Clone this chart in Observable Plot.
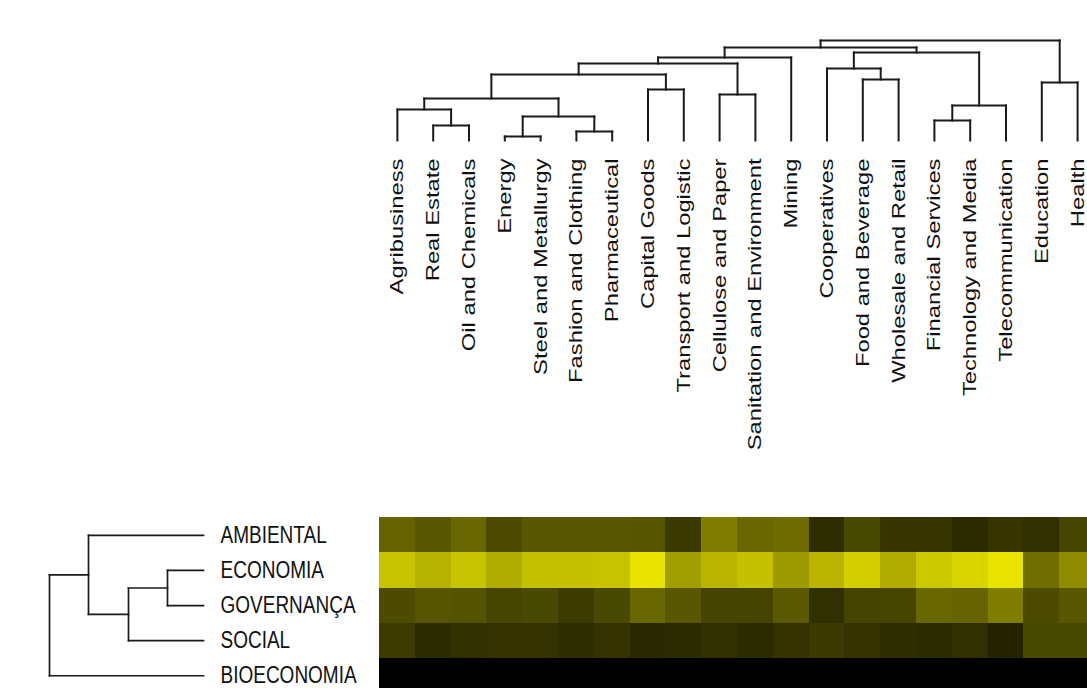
<!DOCTYPE html>
<html><head><meta charset="utf-8">
<script src="https://cdn.jsdelivr.net/npm/d3@7"></script>
<script src="https://cdn.jsdelivr.net/npm/@observablehq/plot@0.6"></script>
<style>
body{margin:0;background:#fff;}
#root{position:relative;width:1087px;height:688px;overflow:hidden;background:#fff;}
#root svg{position:absolute;overflow:visible;}
</style></head><body><div id="root"></div>
<script>
// Column (sector) labels in dendrogram order
const colLabels = ["Agribusiness","Real Estate","Oil and Chemicals","Energy","Steel and Metallurgy","Fashion and Clothing","Pharmaceutical","Capital Goods","Transport and Logistic","Cellulose and Paper","Sanitation and Environment","Mining","Cooperatives","Food and Beverage","Wholesale and Retail","Financial Services","Technology and Media","Telecommunication","Education","Health"];
// Column clustering: merge steps (negative = leaf, positive = earlier step) and heights
const colMerge = [[-4,-5],[-6,-7],[-2,-3],[-16,-17],[1,2],[-1,3],[4,-18],[6,5],[-10,-11],[-8,-9],[-19,-20],[-14,-15],[8,10],[-13,12],[13,9],[15,-12],[14,7],[16,17],[18,11]];
const colHeights = [4,9,15,20,24,31,35,42,46,51,58,61,66,72,77,83,88,93,100];

// Row (dimension) labels and clustering
const rowLabels = ["AMBIENTAL","ECONOMIA","GOVERNANÇA","SOCIAL","BIOECONOMIA"];
const rowMerge = [[-2,-3],[1,-4],[-1,2],[3,-5]];
const rowHeights = [36,75,115,154];

// Heatmap intensities (0 = black, 1 = yellow), one array per row
const valAmbiental   = [0.40,0.35,0.41,0.30,0.35,0.35,0.35,0.34,0.23,0.50,0.41,0.43,0.18,0.29,0.21,0.21,0.17,0.21,0.19,0.28];
const valEconomia    = [0.78,0.71,0.78,0.69,0.77,0.77,0.78,0.91,0.63,0.72,0.77,0.62,0.72,0.83,0.69,0.80,0.85,0.91,0.44,0.56];
const valGovernanca  = [0.30,0.34,0.33,0.28,0.29,0.24,0.29,0.41,0.35,0.27,0.27,0.36,0.19,0.27,0.28,0.41,0.40,0.50,0.30,0.35];
const valSocial      = [0.24,0.17,0.19,0.20,0.20,0.18,0.20,0.16,0.17,0.19,0.17,0.20,0.23,0.20,0.18,0.17,0.19,0.14,0.29,0.29];
const valBioeconomia = [0,0,0,0,0,0,0,0,0,0,0,0,0,0,0,0,0,0,0,0];
const rowValues = [valAmbiental, valEconomia, valGovernanca, valSocial, valBioeconomia];

function dendroSegments(merge, heights) {
  const pos = [], segs = [];
  const child = c => c < 0 ? {p: -c - 0.5, h: 0} : {p: pos[c - 1], h: heights[c - 1]};
  merge.forEach(([a, b], k) => {
    const A = child(a), B = child(b), h = heights[k];
    pos.push((A.p + B.p) / 2);
    segs.push({p1: A.p, h1: A.h, p2: A.p, h2: h});
    segs.push({p1: A.p, h1: h, p2: B.p, h2: h});
    segs.push({p1: B.p, h1: B.h, p2: B.p, h2: h});
  });
  return segs;
}

// stretch label glyphs (the reference image is non-uniformly scaled)
function stretch(svg, sx, sy) {
  svg.querySelectorAll('g[aria-label="text"] text').forEach(t => {
    const tr = t.getAttribute('transform') || '';
    t.setAttribute('transform', `${tr} scale(${sx},${sy})`);
  });
}

const root = document.getElementById('root');
const font = "'Liberation Sans', Arial, sans-serif";
const X0 = 379, CW = 35.8, NC = colLabels.length;
const HTOP = 500;
const rowRange = [517.3 - HTOP, 517.3 - HTOP + 5 * 35.1];

// Top: column dendrogram + labels
const colSegs = dendroSegments(colMerge, colHeights);
const topChart = Plot.plot({
  width: 1087, height: HTOP, margin: 0,
  x: {domain: [0, NC], range: [X0, X0 + NC * CW], axis: null},
  y: {domain: [0, 100], range: [140, 40], axis: null},
  style: {fontFamily: font, background: "transparent"},
  marks: [
    Plot.link(colSegs, {x1: "p1", y1: "h1", x2: "p2", y2: "h2", stroke: "#1a1a1a", strokeWidth: 2, strokeLinecap: "square"}),
    Plot.text(colLabels, {x: (d, i) => i + 0.5, y: () => 0, text: d => d, rotate: -90, textAnchor: "end", dy: 18, fontSize: 19, fill: "#111"})
  ]
});
stretch(topChart, 1.25, 1);
topChart.style.left = "0px"; topChart.style.top = "0px";
root.appendChild(topChart);

// Bottom-left: row dendrogram + labels
const rowSegs = dendroSegments(rowMerge, rowHeights);
const leftChart = Plot.plot({
  width: X0, height: 688 - HTOP, margin: 0,
  x: {domain: [154, 0], range: [49, 203], axis: null},
  y: {domain: [0, 5], range: rowRange, axis: null},
  style: {fontFamily: font, background: "transparent"},
  marks: [
    Plot.link(rowSegs, {x1: "h1", y1: "p1", x2: "h2", y2: "p2", stroke: "#1a1a1a", strokeWidth: 1.7, strokeLinecap: "square"}),
    Plot.text(rowLabels, {x: () => 0, y: (d, i) => i + 0.5, text: d => d, textAnchor: "start", dx: 17, fontSize: 19, fill: "#111"})
  ]
});
stretch(leftChart, 1, 1.25);
leftChart.style.left = "0px"; leftChart.style.top = HTOP + "px";
root.appendChild(leftChart);

// Bottom-right: heatmap
const cells = [];
rowValues.forEach((vals, r) => vals.forEach((v, c) => cells.push({r, c, v})));
const heat = Plot.plot({
  width: 1087 - X0, height: 688 - HTOP, margin: 0,
  x: {domain: [0, NC], range: [0, NC * CW], axis: null},
  y: {domain: [0, 5], range: rowRange, axis: null},
  color: {type: "linear", domain: [0, 1], range: ["#000000", "#fffa00"]},
  style: {background: "transparent"},
  marks: [
    Plot.rect(cells, {x1: "c", x2: d => d.c + 1, y1: "r", y2: d => d.r + 1, fill: "v", shapeRendering: "crispEdges"})
  ]
});
heat.style.left = X0 + "px"; heat.style.top = HTOP + "px";
root.appendChild(heat);
</script>
</body></html>
